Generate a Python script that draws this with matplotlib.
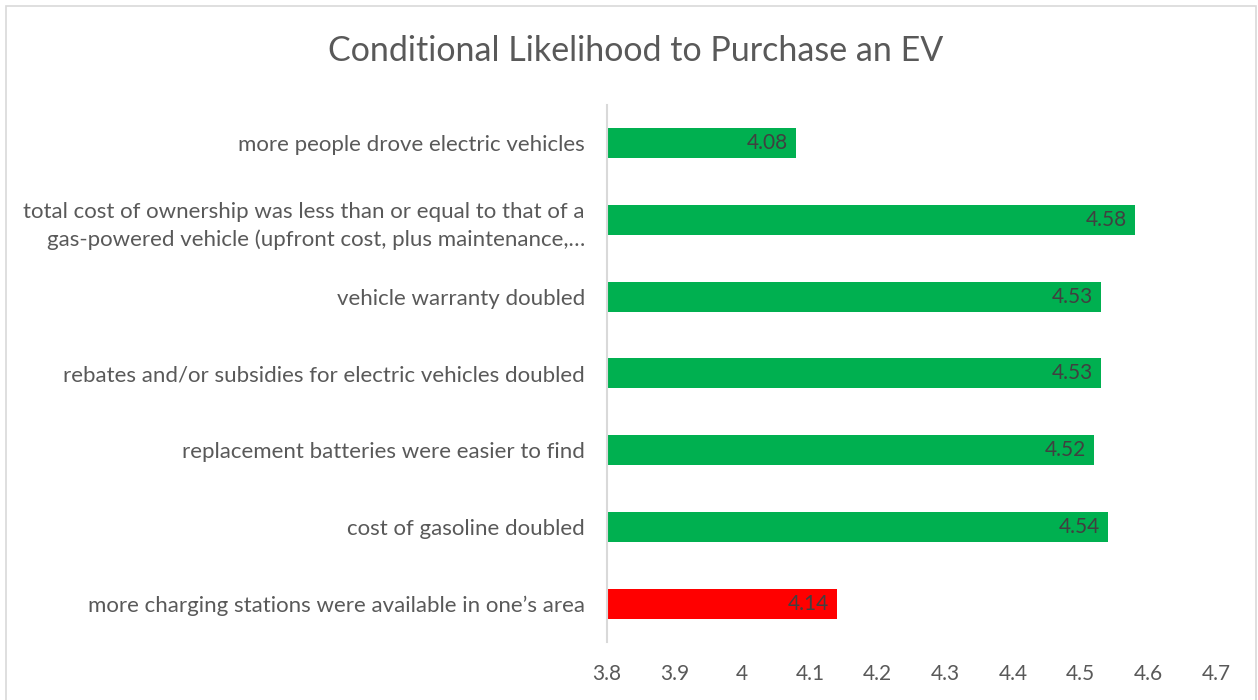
import matplotlib.pyplot as plt
import matplotlib.patches as mpatches

# categories listed bottom to top (as drawn)
labels = [
    "more charging stations were available in one\u2019s area",
    "cost of gasoline doubled",
    "replacement batteries were easier to find",
    "rebates and/or subsidies for electric vehicles doubled",
    "vehicle warranty doubled",
    "total cost of ownership was less than or equal to that of a\ngas-powered vehicle (upfront cost, plus maintenance,\u2026",
    "more people drove electric vehicles",
]
values = [4.14, 4.54, 4.52, 4.53, 4.53, 4.58, 4.08]
colors = ["#FF0000"] + ["#00B050"] * 6
xticks = [3.8, 3.9, 4.0, 4.1, 4.2, 4.3, 4.4, 4.5, 4.6, 4.7]
xticklabels = ["3.8", "3.9", "4", "4.1", "4.2", "4.3", "4.4", "4.5", "4.6", "4.7"]

plt.rcParams['font.family'] = ['Lato', 'DejaVu Sans']
text_color = '#595959'

fig = plt.figure(figsize=(12.58, 7), dpi=100)
ax = fig.add_axes([0.4825, 0.083, 0.4841, 0.767])

# chart border
fig.patches.append(mpatches.Rectangle((6 / 1258, -0.01), 1250 / 1258, 1 - 6 / 700 + 0.01,
                                      transform=fig.transFigure, fill=False,
                                      edgecolor='#D9D9D9', linewidth=1.2))

left = 3.8
ypos = range(len(values))
ax.barh(ypos, [v - left for v in values], left=left, height=0.39, color=colors)

for y, v in zip(ypos, values):
    ax.text(v - 0.012, y, f"{v:.2f}", ha='right', va='center',
            fontsize=15, color='#404040')

ax.set_xlim(3.8, 4.7)
ax.set_ylim(-0.5, len(values) - 0.5)
ax.set_xticks(xticks)
ax.set_xticklabels(xticklabels)
ax.set_yticks(list(ypos))
ax.set_yticklabels(labels)
ax.tick_params(axis='x', length=0, pad=16, labelsize=15, labelcolor=text_color)
ax.tick_params(axis='y', length=0, pad=16, labelsize=16, labelcolor=text_color)
for lbl in ax.get_yticklabels():
    lbl.set_horizontalalignment('right')
    lbl.set_multialignment('right')
    lbl.set_linespacing(1.45)

for side in ['top', 'right', 'bottom']:
    ax.spines[side].set_visible(False)
ax.spines['left'].set_color('#D9D9D9')
ax.spines['left'].set_linewidth(1.5)

fig.text(0.505, 0.927, "Conditional Likelihood to Purchase an EV", ha='center',
         va='center', fontsize=24.5, color=text_color)

fig.savefig('out.png', dpi=100)
